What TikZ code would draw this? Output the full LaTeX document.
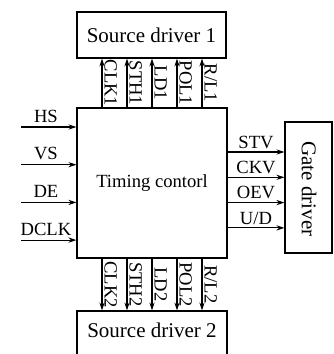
\documentclass[tikz,border=0pt]{standalone}
\usepackage{fontspec}
\setmainfont{Liberation Serif}
\usetikzlibrary{arrows.meta}
\begin{document}
\begin{tikzpicture}[x=0.5pt,y=-0.5pt,font=\fontsize{9.3}{11}\selectfont]
\tikzstyle{block} = [rectangle, draw, line width=0.55pt, inner sep=0pt]
\tikzstyle{arrow} = [line width=0.55pt,-{Stealth[length=4pt,width=2.6pt]}]
\tikzstyle{sig} = [rotate=-90, anchor=south, inner sep=1pt]
\tikzstyle{big} = [font=\fontsize{10.5}{12}\selectfont]

\useasboundingbox (0,0) rectangle (333,354);
\clip (0,0) rectangle (333,354);

\node (sd1) [block, big, minimum width=74.5pt, minimum height=23pt] at (151.5,35) {Source driver 1};
\node (tc) [block, minimum width=75pt, minimum height=75pt] at (152,183) {Timing contorl};
\node (sd2) [block, big, minimum width=75pt, minimum height=30pt] at (152,341) {};
\node (sd2txt) [big] at (152,330) {Source driver 2};
\node (gd) [block, big, minimum width=23.5pt, minimum height=65.5pt] at (308.5,187.5) {};
\node (gdtxt) [big, rotate=-90] at (309,189) {Gate driver};

% source driver signals
\foreach \a/\b [count=\k] in {CLK1/CLK2, STH1/STH2, LD1/LD2, POL1/POL2, {R/L1}/{R/L2}} {
  \coordinate (c\k) at ({77+25*\k},0);
  \draw [arrow] (tc.north -| c\k) -- (sd1.south -| c\k) node[midway, sig] {\a};
  \draw [arrow] (tc.south -| c\k) -- (sd2.north -| c\k) node[midway, sig] {\b};
}

% inputs
\foreach \s [count=\k] in {HS, VS, DE, DCLK} {
  \coordinate (in\k) at (21,{89.3+37.7*\k});
  \draw [arrow] (in\k) -- (in\k -| tc.west) node[pos=0.45, above, inner sep=2pt] {\s};
}

% gate driver signals
\foreach \s [count=\k] in {STV, CKV, OEV, U/D} {
  \coordinate (g\k) at (0,{126.7+25.3*\k});
  \draw [arrow] (tc.east |- g\k) -- (gd.west |- g\k) node[midway, above, inner sep=1.5pt] {\s};
}
\end{tikzpicture}
\end{document}
